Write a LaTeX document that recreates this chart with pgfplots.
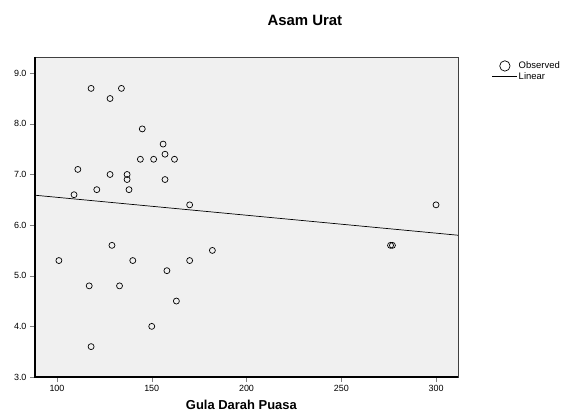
\documentclass[border=0pt]{standalone}
\usepackage{fontspec}
\setmainfont{Liberation Sans}
\usepackage{pgfplots}
\pgfplotsset{compat=1.18}
\definecolor{spssbg}{HTML}{F0F0F0}

\begin{document}
\begin{tikzpicture}
\path[use as bounding box] (-35bp,-38bp) rectangle (529bp,377bp);
\begin{axis}[
  scale only axis,
  width=423bp, height=320bp,
  xmin=88.4, xmax=311.6, ymin=3.0, ymax=9.32,
  xtick={100,150,200,250,300},
  ytick={3,4,5,6,7,8,9},
  yticklabel style={/pgf/number format/.cd, fixed, fixed zerofill, precision=1},
  /pgf/number format/assume math mode=true,
  tick label style={font=\fontsize{9}{11}\selectfont},
  xtick pos=bottom, ytick pos=left, tick align=outside,
  major tick length=5bp,
  axis background/.style={fill=spssbg},
  axis line style={black!75, line width=0.6bp},
  title={\textbf{Asam Urat}},
  title style={font=\fontsize{15}{17}\selectfont, at={(0.638,1.095)}, anchor=center, yshift=0pt},
  xlabel={\textbf{Gula Darah Puasa}},
  xlabel style={font=\fontsize{13}{15}\selectfont, at={(0.488,-0.088)}, anchor=center},
  legend style={draw=none, fill=none, at={(1.080,0.99)}, anchor=north west,
    font=\fontsize{9.5}{10}\selectfont, row sep=0bp, inner sep=0pt,
    nodes={inner sep=1bp}},
  legend cell align=left,
  clip=false,
]
\addplot[only marks, mark=o, mark size=3bp, black, mark options={line width=0.7bp},
  legend image code/.code={\draw[black, line width=0.7bp] (12.5bp,0) circle (5.2bp);}] coordinates {
  (101,5.3) (109,6.6) (111,7.1) (117,4.8) (118,8.7) (118,3.6)
  (121,6.7) (128,8.5) (128,7.0) (129,5.6) (133,4.8) (134,8.7)
  (137,7.0) (137,6.9) (138,6.7) (140,5.3) (144,7.3) (145,7.9)
  (150,4.0) (151,7.3) (156,7.6) (157,7.4) (157,6.9) (158,5.1)
  (162,7.3) (163,4.5) (170,6.4) (170,5.3) (182,5.5)
  (276,5.6) (277,5.6) (300,6.4)};
\addlegendentry{Observed}
\addplot[black, line width=0.7bp, no marks,
  legend image code/.code={\draw[black, line width=0.7bp] (0,0) -- (25bp,0);}] coordinates {(88.4,6.59) (311.6,5.80)};
\addlegendentry{Linear}
\draw[black, line width=1.2bp] (rel axis cs:0,1) -- (rel axis cs:0,0) -- (rel axis cs:1,0);
\end{axis}
\end{tikzpicture}
\end{document}
